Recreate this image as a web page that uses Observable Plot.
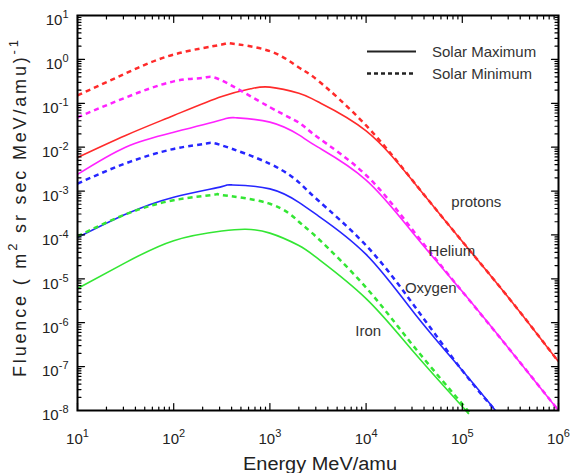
<!DOCTYPE html>
<html>
<head>
<meta charset="utf-8">
<script src="https://cdn.jsdelivr.net/npm/d3@7"></script>
<script src="https://cdn.jsdelivr.net/npm/@observablehq/plot@0.6"></script>
<style>
  body { margin: 0; background: #fff; }
  svg { display: block; }
</style>
</head>
<body>
<div id="chart"></div>
<script>
// ---- Data ----
// Protons
const protonMaxEnergy  = [10, 31.6, 100, 316, 631, 1000, 2000, 3160, 1e4, 3.16e4, 1e5, 3.16e5, 1e6];
const protonMaxFluence = [5.82e-3, 1.85e-2, 5.27e-2, 0.143, 0.214, 0.233, 0.170, 0.108, 2.35e-2, 1.55e-3, 7.11e-5, 3.31e-6, 1.29e-7];
const protonMinEnergy  = [10, 31.6, 100, 316, 400, 1000, 2000, 3160, 1e4, 3.16e4, 1e5, 3.16e5, 1e6];
const protonMinFluence = [0.151, 0.478, 1.29, 2.18, 2.30, 1.54, 0.653, 0.330, 3.12e-2, 1.57e-3, 7.11e-5, 3.31e-6, 1.29e-7];
// Helium
const heliumMaxEnergy  = [10, 31.6, 100, 316, 436, 1000, 2000, 3160, 1e4, 3.16e4, 1e5, 3.16e5, 1e6];
const heliumMaxFluence = [2.40e-3, 1.0e-2, 2.19e-2, 4.21e-2, 4.68e-2, 3.72e-2, 1.90e-2, 1.0e-2, 1.78e-3, 1.02e-4, 5.13e-6, 2.34e-7, 1.0e-8];
const heliumMinEnergy  = [10, 31.6, 100, 204, 316, 1000, 2000, 3160, 1e4, 3.16e4, 1e5, 3.16e5, 1e6];
const heliumMinFluence = [4.79e-2, 0.135, 0.316, 0.380, 0.331, 8.13e-2, 3.63e-2, 1.66e-2, 2.29e-3, 1.17e-4, 5.13e-6, 2.34e-7, 1.0e-8];
// Oxygen
const oxygenMaxEnergy  = [10, 31.6, 100, 316, 400, 1000, 2000, 3160, 1e4, 3.16e4, 1e5, 2.21e5];
const oxygenMaxFluence = [8.71e-5, 2.95e-4, 7.24e-4, 1.26e-3, 1.38e-3, 1.12e-3, 5.50e-4, 2.75e-4, 3.60e-5, 1.66e-6, 8.13e-8, 1.0e-8];
const oxygenMinEnergy  = [10, 31.6, 100, 214, 316, 1000, 2000, 3160, 1e4, 3.16e4, 1e5, 2.21e5];
const oxygenMinFluence = [1.48e-3, 4.27e-3, 9.12e-3, 1.20e-2, 1.10e-2, 4.17e-3, 1.58e-3, 6.17e-4, 5.75e-5, 2.45e-6, 8.13e-8, 1.0e-8];
// Iron
const ironMaxEnergy  = [10, 31.6, 100, 316, 562, 1000, 2000, 3160, 1e4, 3.16e4, 1e5, 1.08e5];
const ironMaxFluence = [6.03e-6, 2.34e-5, 7.41e-5, 1.23e-4, 1.35e-4, 1.10e-4, 5.75e-5, 2.88e-5, 3.55e-6, 2.09e-7, 1.23e-8, 1.0e-8];
const ironMinEnergy  = [10, 31.6, 100, 269, 316, 1000, 2000, 3160, 1e4, 3.16e4, 1e5, 1.12e5];
const ironMinFluence = [9.33e-5, 2.95e-4, 6.17e-4, 8.32e-4, 8.13e-4, 5.13e-4, 2.0e-4, 8.32e-5, 6.31e-6, 2.82e-7, 1.41e-8, 1.0e-8];

// Species labels and their anchor positions (energy, fluence)
const speciesNames   = ["protons", "Helium", "Oxygen", "Iron"];
const speciesEnergy  = [1.4e5, 7.8e4, 4.7e4, 1.05e4];
const speciesFluence = [5.7e-4, 4.2e-5, 6.0e-6, 6.5e-7];

// Tick values
const xMajorTicks = [1e1, 1e2, 1e3, 1e4, 1e5, 1e6];
const yMajorTicks = [1e-8, 1e-7, 1e-6, 1e-5, 1e-4, 1e-3, 1e-2, 1e-1, 1e0, 1e1];
const legendLabels = ["Solar Maximum", "Solar Minimum"];

// ---- Build tables ----
const colors = {protons: "#ff2a2a", Helium: "#ff22ff", Oxygen: "#2626ff", Iron: "#33e633"};
const seriesDefs = [
  {species: "protons", cycle: "max", e: protonMaxEnergy, f: protonMaxFluence},
  {species: "protons", cycle: "min", e: protonMinEnergy, f: protonMinFluence},
  {species: "Helium",  cycle: "max", e: heliumMaxEnergy, f: heliumMaxFluence},
  {species: "Helium",  cycle: "min", e: heliumMinEnergy, f: heliumMinFluence},
  {species: "Oxygen",  cycle: "max", e: oxygenMaxEnergy, f: oxygenMaxFluence},
  {species: "Oxygen",  cycle: "min", e: oxygenMinEnergy, f: oxygenMinFluence},
  {species: "Iron",    cycle: "max", e: ironMaxEnergy,   f: ironMaxFluence},
  {species: "Iron",    cycle: "min", e: ironMinEnergy,   f: ironMinFluence}
];
const minorOf = (lo, hi) => {
  const out = [];
  for (let k = lo; k <= hi; k++) for (let m = 2; m <= 9; m++) out.push(m * Math.pow(10, k));
  return out;
};
const xMinorTicks = minorOf(1, 5);
const yMinorTicks = minorOf(-8, 0);
const speciesTable = speciesNames.map((n, i) => ({name: n, energy: speciesEnergy[i], fluence: speciesFluence[i]}));

const tickShape = {draw(context, l) { context.moveTo(0, 0); context.lineTo(0, -l); }};
const tickMarks = (values, frameAnchor, rotate, len, channel) =>
  Plot.vector(values, {
    [channel]: d => d, frameAnchor, rotate, length: len, anchor: "start",
    shape: tickShape, stroke: "#000", strokeWidth: 1.2
  });

const lineMarks = seriesDefs.map(s => {
  const rows = s.e.map((e, i) => ({energy: e, fluence: s.f[i]}));
  return Plot.line(rows, {
    x: "energy", y: "fluence",
    stroke: colors[s.species],
    strokeWidth: s.cycle === "max" ? 1.6 : 2.5,
    strokeDasharray: s.cycle === "max" ? null : "5,4",
    strokeLinecap: "butt",
    curve: "natural"
  });
});

const FONT = "'Liberation Sans', Arial, Helvetica, sans-serif";

const svg = Plot.plot({
  width: 574,
  height: 473,
  marginTop: 15,
  marginRight: 16,
  marginBottom: 63,
  marginLeft: 77,
  style: {fontFamily: FONT, background: "#fff", color: "#222"},
  x: {type: "log", domain: [10, 1e6], label: null},
  y: {type: "log", domain: [1e-8, 10], label: null},
  marks: [
    ...lineMarks,
    Plot.text(speciesTable, {x: "energy", y: "fluence", text: "name", fontSize: 15, fill: "#333"}),
    // inward ticks on all four sides
    tickMarks(xMajorTicks, "bottom", 0, 7, "x"),
    tickMarks(xMinorTicks, "bottom", 0, 3.5, "x"),
    tickMarks(xMajorTicks, "top", 180, 7, "x"),
    tickMarks(xMinorTicks, "top", 180, 3.5, "x"),
    tickMarks(yMajorTicks, "left", 90, 7, "y"),
    tickMarks(yMinorTicks, "left", 90, 3.5, "y"),
    tickMarks(yMajorTicks, "right", -90, 7, "y"),
    tickMarks(yMinorTicks, "right", -90, 3.5, "y"),
    Plot.axisX({anchor: "bottom", ticks: xMajorTicks, tickSize: 0, tickPadding: 23, fontSize: 15,
                tickFormat: d => String(Math.round(Math.log10(d))), label: null}),
    Plot.axisY({anchor: "left", ticks: yMajorTicks, tickSize: 0, tickPadding: 9, fontSize: 15, dy: 5,
                tickFormat: d => String(Math.round(Math.log10(d))), label: null}),
    Plot.frame({stroke: "#000", strokeWidth: 2})
  ]
});

// Turn exponent tick labels into 10 with a superscript
const s = d3.select(svg);
s.selectAll('g[aria-label="x-axis tick label"] text, g[aria-label="y-axis tick label"] text').each(function () {
  const k = this.textContent;
  const t = d3.select(this);
  t.text(null);
  t.append("tspan").text("10");
  t.append("tspan").attr("dy", "-7").attr("font-size", 11).text(k);
});

// Legend
const legend = s.append("g").attr("font-family", FONT).attr("font-size", 15).attr("fill", "#333")
  .attr("text-anchor", "start");
legend.append("line").attr("x1", 367).attr("x2", 416).attr("y1", 51.5).attr("y2", 51.5)
  .attr("stroke", "#222").attr("stroke-width", 2);
legend.append("line").attr("x1", 367).attr("x2", 416).attr("y1", 73.5).attr("y2", 73.5)
  .attr("stroke", "#222").attr("stroke-width", 2.5).attr("stroke-dasharray", "4,3");
legend.append("text").attr("x", 432).attr("y", 57).text(legendLabels[0]);
legend.append("text").attr("x", 432).attr("y", 78.5).text(legendLabels[1]);

// Axis titles
s.append("text")
  .attr("x", 320).attr("y", 470)
  .attr("text-anchor", "middle")
  .attr("font-family", FONT).attr("font-size", 18).attr("fill", "#222")
  .attr("textLength", 154).attr("lengthAdjust", "spacingAndGlyphs")
  .text("Energy MeV/amu");

const yt = s.append("text")
  .attr("transform", "translate(26,208.5) rotate(-90)")
  .attr("text-anchor", "middle")
  .attr("font-family", FONT).attr("font-size", 18).attr("fill", "#222")
  .attr("textLength", 337).attr("lengthAdjust", "spacing");
yt.append("tspan").text("Fluence ( m");
yt.append("tspan").attr("dy", -9).attr("font-size", 13).text("2");
yt.append("tspan").attr("dy", 9).text(" sr sec MeV/amu)");
yt.append("tspan").attr("dy", -8).attr("font-size", 13).text("-1");

document.getElementById("chart").appendChild(svg);
</script>
</body>
</html>
